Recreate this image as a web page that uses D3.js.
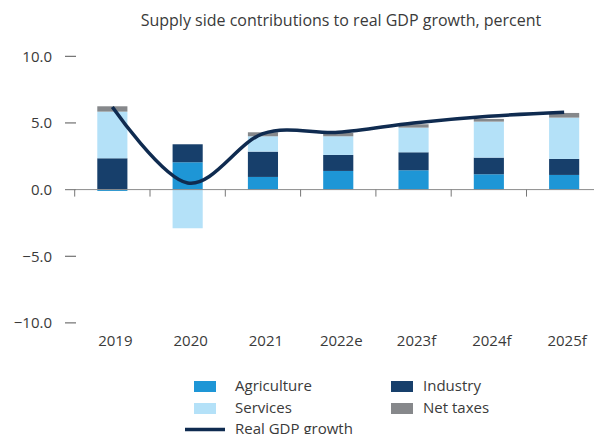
<!DOCTYPE html>
<html><head><meta charset="utf-8">
<script src="https://cdn.jsdelivr.net/npm/d3@7"></script>
<style>
html,body{margin:0;padding:0;background:#fff;}
svg{display:block;font-family:"Open Sans","Noto Sans",sans-serif;}
</style></head>
<body>
<svg id="c" width="594" height="434"></svg>
<script>
const categories = ["2019","2020","2021","2022e","2023f","2024f","2025f"];
const agriculture = [-0.1, 2.05, 0.95, 1.4, 1.45, 1.15, 1.1];
const industry    = [2.35, 1.35, 1.9, 1.2, 1.35, 1.25, 1.2];
const services    = [3.5, -2.9, 1.15, 1.4, 1.85, 2.7, 3.1];
const netTaxes    = [0.4, 0, 0.3, 0.25, 0.25, 0.2, 0.35];
const gdpGrowth   = [6.2, 0.5, 4.2, 4.3, 5.0, 5.5, 5.8];
const yTicks = [-10, -5, 0, 5, 10];
const seriesNames = ["Agriculture","Industry","Services","Net taxes"];
const colors = {"Agriculture":"#1e96d6","Industry":"#173f6b","Services":"#b4e1f8","Net taxes":"#86888b"};
const lineColor = "#0f2b50";
const textColor = "#3a3a3a";

const table = categories.map((c,i)=>({cat:c,"Agriculture":agriculture[i],"Industry":industry[i],"Services":services[i],"Net taxes":netTaxes[i]}));

const svg = d3.select("#c");
const x = d3.scaleBand().domain(categories).range([74.7, 601.8]).paddingInner(0.6).paddingOuter(0.3);
const y = d3.scaleLinear().domain([-10,10]).range([322.9, 56.3]);

// title
svg.append("text").attr("x",341).attr("y",26).attr("text-anchor","middle")
  .attr("font-size",16).attr("fill",textColor)
  .text("Supply side contributions to real GDP growth, percent");

// y axis ticks (dashes) and labels
const yg = svg.append("g");
yTicks.forEach(t=>{
  yg.append("line").attr("x1",65).attr("x2",76).attr("y1",y(t)).attr("y2",y(t)).attr("stroke","#555").attr("stroke-width",1);
  yg.append("text").attr("x",52).attr("y",y(t)).attr("dy","0.35em").attr("text-anchor","end")
    .attr("font-size",15).attr("fill",textColor).text(t<0?"\u2212"+Math.abs(t).toFixed(1):t.toFixed(1));
});

// bars
const stack = d3.stack().keys(seriesNames).offset(d3.stackOffsetDiverging);
const stacked = stack(table);
svg.append("g").selectAll("g").data(stacked).join("g").attr("fill",d=>colors[d.key])
  .selectAll("rect").data(d=>d).join("rect")
  .attr("x",d=>x(d.data.cat)).attr("width",x.bandwidth())
  .attr("y",d=>y(Math.max(d[0],d[1]))).attr("height",d=>Math.abs(y(d[0])-y(d[1])));

// zero line and x ticks
svg.append("line").attr("x1",65).attr("x2",594).attr("y1",y(0)).attr("y2",y(0)).attr("stroke","#8c8c8c").attr("stroke-width",1);
const step = x.step();
for(let i=0;i<=categories.length;i++){
  const xx = x.range()[0] + i*step;
  svg.append("line").attr("x1",xx).attr("x2",xx).attr("y1",y(0)).attr("y2",y(0)+7).attr("stroke","#777").attr("stroke-width",1);
}
// x labels
svg.append("g").selectAll("text").data(categories).join("text")
  .attr("x",d=>x(d)+x.bandwidth()/2+3).attr("y",346).attr("text-anchor","middle")
  .attr("font-size",15).attr("fill",textColor).text(d=>d);

// line
const line = d3.line().x((d,i)=>x(categories[i])+x.bandwidth()/2).y(d=>y(d)).curve(d3.curveCardinal.tension(0));
svg.append("path").datum(gdpGrowth).attr("d",line).attr("fill","none").attr("stroke",lineColor).attr("stroke-width",3.5).attr("stroke-linecap","butt");

// legend
const leg = svg.append("g");
const legItems = [
  {n:"Agriculture",sx:194,sy:381,tx:235,ty:391},
  {n:"Industry",sx:391,sy:381,tx:423,ty:391},
  {n:"Services",sx:194,sy:403,tx:235,ty:413},
  {n:"Net taxes",sx:391,sy:403,tx:423,ty:413}
];
legItems.forEach(it=>{
  leg.append("rect").attr("x",it.sx).attr("y",it.sy).attr("width",22).attr("height",11).attr("fill",colors[it.n]);
  leg.append("text").attr("x",it.tx).attr("y",it.ty).attr("font-size",15).attr("fill",textColor).text(it.n);
});
leg.append("line").attr("x1",185).attr("x2",225).attr("y1",429.5).attr("y2",429.5).attr("stroke",lineColor).attr("stroke-width",3.5);
leg.append("text").attr("x",235).attr("y",434).attr("font-size",15).attr("fill",textColor).text("Real GDP growth");
</script>
</body></html>
